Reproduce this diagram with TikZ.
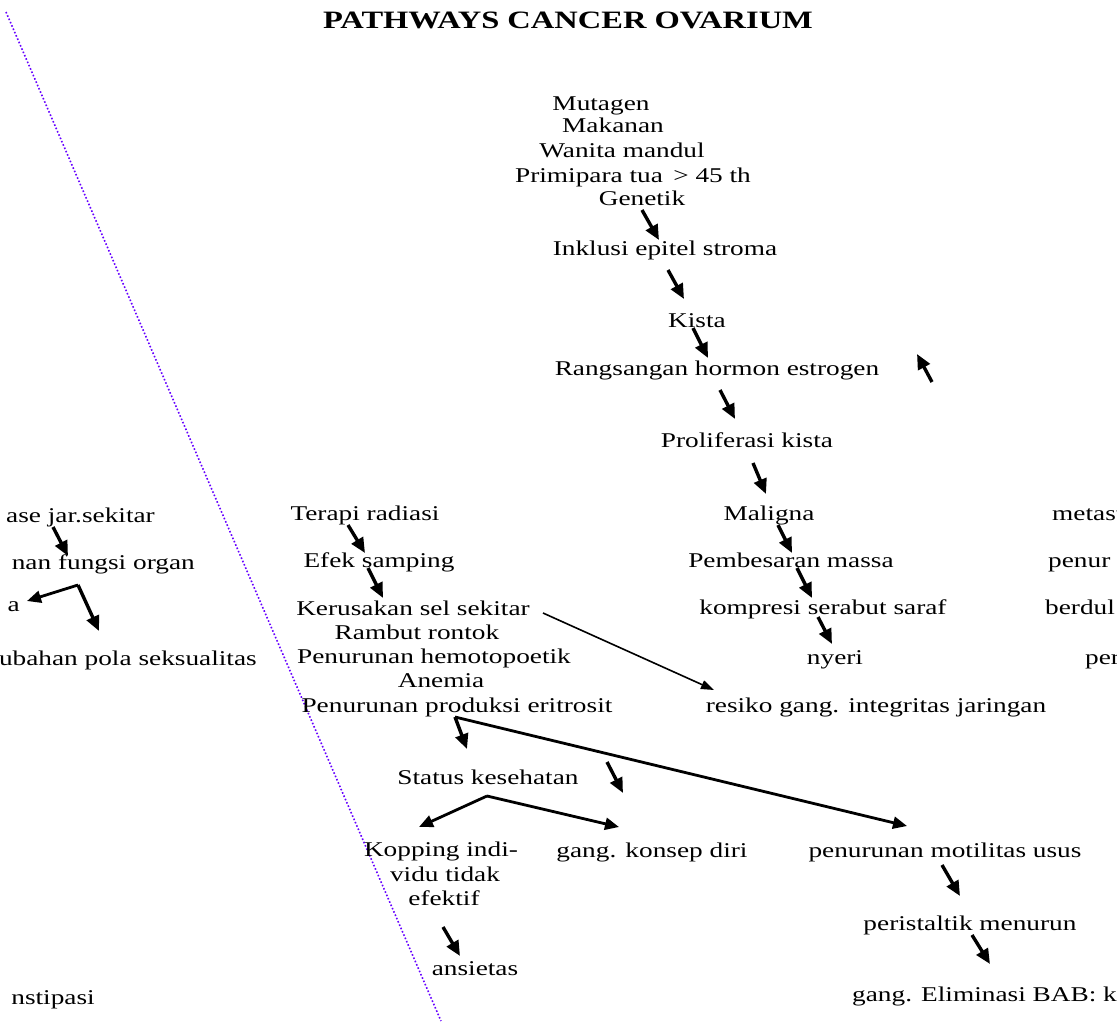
\documentclass[tikz,border=0pt]{standalone}
\usepackage{fontspec}
\setmainfont{Liberation Serif}[FakeStretch=1.3]
\usetikzlibrary{arrows.meta}
\begin{document}
\begin{tikzpicture}[x=1pt,y=-1pt,
  lbl/.style={inner sep=0pt, anchor=mid, yshift=-5pt, font=\fontsize{21}{25}\selectfont},
  lblw/.style={lbl, anchor=mid west},
  lble/.style={lbl, anchor=mid east},
  ttl/.style={inner sep=0pt, anchor=mid, yshift=-6pt, font=\bfseries\fontsize{25}{30}\selectfont},
  arr/.style={line width=3.4pt, -{Triangle[length=15pt,width=13pt]}},
  midarr/.style={line width=2.8pt, -{Triangle[length=14pt,width=12pt]}},
  thinarr/.style={line width=1.6pt, -{Triangle[length=13pt,width=9pt]}},
  border/.style={dotted, line width=1.6pt, color=blue!60!magenta}]
\useasboundingbox (0,0) rectangle (1117,1021);
\clip (0,0) rectangle (1117,1021);
\fill[white] (0,0) rectangle (1117,1021);

% dotted border line
\coordinate (bt) at (6,12);
\coordinate (bb) at (441,1021);
\draw[border] (bt) -- (bb);

% title
\node[ttl] (title) at (568,20) {PATHWAYS CANCER OVARIUM};

% causes
\node[lbl] (mut) at (601,103) {Mutagen};
\node[lbl] (mak) at (613,125) {Makanan};
\node[lbl] (wan) at (622,150) {Wanita mandul};
\node[lbl] (pri) at (633,175) {Primipara tua \,> 45 th};
\node[lbl] (gen) at (642,198) {Genetik};

% main chain
\node[lbl] (ink) at (665,248) {Inklusi epitel stroma};
\node[lbl] (kis) at (697,320) {Kista};
\node[lbl] (ran) at (717,368) {Rangsangan hormon estrogen};
\node[lbl] (pro) at (747,440) {Proliferasi kista};
\node[lbl] (mal) at (769,513) {Maligna};
\node[lbl] (pem) at (791,560) {Pembesaran massa};
\node[lbl] (kom) at (823,607) {kompresi serabut saraf};
\node[lbl] (nye) at (835,657) {nyeri};
\node[lbl] (res) at (876,705) {resiko gang. integritas jaringan};

% right clipped column
\node[lblw] (r1) at (1052,513) {metast};
\node[lblw] (r2) at (1048,560) {penur};
\node[lblw] (r3) at (1045,607) {berdul};
\node[lblw] (r4) at (1085,657) {per};

% left clipped column
\node[lble] (l1) at (155,515) {ase jar.sekitar};
\node[lble] (l2) at (195,562) {nan fungsi organ};
\node[lble] (l3) at (20,604) {a};
\node[lble] (l4) at (257,658) {ubahan pola seksualitas};
\node[lble] (l5) at (95,997) {nstipasi};

% radiation chain
\node[lbl] (ter) at (365,513) {Terapi radiasi};
\node[lbl] (efe) at (379,560) {Efek samping};
\node[lbl] (ker) at (413,608) {Kerusakan sel sekitar};
\node[lbl] (ram) at (417,632) {Rambut rontok};
\node[lbl] (phe) at (434,656) {Penurunan hemotopoetik};
\node[lbl] (ane) at (441,680) {Anemia};
\node[lbl] (per) at (457,705) {Penurunan produksi eritrosit};

% lower part
\node[lbl] (sta) at (488,777) {Status kesehatan};
\node[lbl] (kop1) at (441,849) {Kopping indi-};
\node[lbl] (kop2) at (445,874) {vidu tidak};
\node[lbl] (kop3) at (444,898) {efektif};
\node[lbl] (kon) at (652,850) {gang. konsep diri};
\node[lbl] (ans) at (475,968) {ansietas};
\node[lbl] (mot) at (945,850) {penurunan motilitas usus};
\node[lbl] (pst) at (970,923) {peristaltik menurun};
\node[lblw] (eli) at (852,994) {gang. Eliminasi BAB: ko};

% arrow end points
\coordinate (a1s) at (642,210); \coordinate (a1e) at (659,240);
\coordinate (a2s) at (668,270); \coordinate (a2e) at (684,299);
\coordinate (a3s) at (693,328); \coordinate (a3e) at (708,358);
\coordinate (ups) at (932,382); \coordinate (upe) at (917,354);
\coordinate (a4s) at (720,390); \coordinate (a4e) at (735,419);
\coordinate (a5s) at (753,463); \coordinate (a5e) at (766,494);
\coordinate (a6s) at (778,525); \coordinate (a6e) at (792,553);
\coordinate (a7s) at (797,568); \coordinate (a7e) at (812,598);
\coordinate (a8s) at (818,617); \coordinate (a8e) at (832,644);
\coordinate (lgs) at (543,613); \coordinate (lge) at (714,690);
\coordinate (b1s) at (53,527);  \coordinate (b1e) at (68,556);
\coordinate (b2p) at (78,585);  \coordinate (b2l) at (27,601); \coordinate (b2r) at (99,631);
\coordinate (c1s) at (348,525); \coordinate (c1e) at (365,553);
\coordinate (c2s) at (368,568); \coordinate (c2e) at (383,598);
\coordinate (d1p) at (455,717); \coordinate (d1a) at (467,749); \coordinate (d1b) at (907,826);
\coordinate (d2s) at (607,762); \coordinate (d2e) at (623,793);
\coordinate (e1p) at (487,796); \coordinate (e1l) at (419,827); \coordinate (e1r) at (619,827);
\coordinate (f1s) at (443,927); \coordinate (f1e) at (460,956);
\coordinate (g1s) at (942,865); \coordinate (g1e) at (960,896);
\coordinate (g2s) at (972,935); \coordinate (g2e) at (990,964);

% arrows
\draw[arr] (a1s) -- (a1e);
\draw[arr] (a2s) -- (a2e);
\draw[arr] (a3s) -- (a3e);
\draw[arr] (ups) -- (upe);
\draw[arr] (a4s) -- (a4e);
\draw[arr] (a5s) -- (a5e);
\draw[arr] (a6s) -- (a6e);
\draw[arr] (a7s) -- (a7e);
\draw[arr] (a8s) -- (a8e);
\draw[thinarr] (lgs) -- (lge);
\draw[arr] (b1s) -- (b1e);
\draw[midarr] (b2p) -- (b2l);
\draw[arr] (b2p) -- (b2r);
\draw[arr] (c1s) -- (c1e);
\draw[arr] (c2s) -- (c2e);
\draw[arr] (d1p) -- (d1a);
\draw[midarr] (d1p) -- (d1b);
\draw[arr] (d2s) -- (d2e);
\draw[midarr] (e1p) -- (e1l);
\draw[midarr] (e1p) -- (e1r);
\draw[arr] (f1s) -- (f1e);
\draw[arr] (g1s) -- (g1e);
\draw[arr] (g2s) -- (g2e);
\end{tikzpicture}
\end{document}
